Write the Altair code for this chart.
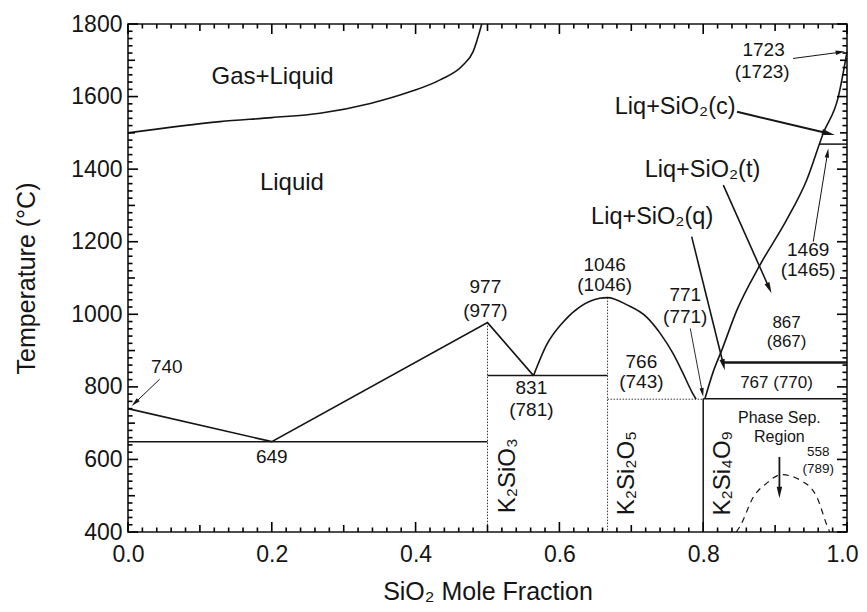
import math
import altair as alt
import pandas as pd

# ---------------- data ----------------
W, H = 719, 508
XMIN, XMAX = 0.0, 1.0
YMIN, YMAX = 400, 1800
PX_X = W / (XMAX - XMIN)
PX_Y = H / (YMAX - YMIN)

# phase boundaries (SiO2 mole fraction, temperature)
gas_x = [0.0, 0.128, 0.200, 0.267, 0.337, 0.392, 0.434, 0.466, 0.480, 0.492]
gas_y = [1500, 1531, 1542, 1554, 1581, 1613, 1646, 1687, 1724, 1800]

liqL_x = [0.0, 0.2, 0.5, 0.564]
liqL_y = [740, 649, 977, 831]

dome_x = [0.564, 0.582, 0.605, 0.629, 0.656, 0.667, 0.694, 0.721, 0.740, 0.758, 0.772, 0.784, 0.790]
dome_y = [831, 915, 978, 1021, 1044, 1046, 1026, 993, 948, 892, 837, 787, 766]

liqR_x = [0.8025, 0.814, 0.826, 0.847, 0.879, 0.916, 0.944, 0.967, 0.988, 1.0]
liqR_y = [768, 842, 902, 1012, 1136, 1260, 1370, 1499, 1600, 1723]

psep_x = [0.846, 0.851, 0.870, 0.888, 0.909, 0.935, 0.958, 0.972, 0.976]
psep_y = [400, 415, 497, 534, 558, 543, 497, 419, 400]

# straight segments: x1, y1, x2, y2
solid_segs = [(0.0, 649, 0.5, 649), (0.5, 831, 0.667, 831), (0.8, 767, 1.0, 767),
              (0.8, 767, 0.8, 400), (0.962, 1469, 1.0, 1469)]
thick_segs = [(0.826, 867, 1.0, 867)]
dotted_segs = [(0.5, 977, 0.5, 400), (0.667, 1046, 0.667, 400), (0.667, 766, 0.8, 766)]

# arrows: x_from, y_from, x_to, y_to, stroke width, head size
arrows = [
    (0.044, 821, 0.005, 747, 1.0, 110),
    (0.925, 1705, 0.997, 1724, 1.0, 110),
    (0.847, 1558, 0.983, 1494, 2.0, 220),
    (0.828, 1356, 0.895, 1058, 1.6, 160),
    (0.784, 1214, 0.830, 846, 1.6, 160),
    (0.782, 961, 0.800, 773, 0.9, 100),
    (0.953, 1200, 0.974, 1457, 1.0, 110),
    (0.906, 607, 0.906, 493, 1.8, 170),
]

labels = [
    ("Gas+Liquid", 0.201, 1655, 24),
    ("Liquid", 0.228, 1362, 24),
    ("740", 0.054, 856, 19),
    ("649", 0.200, 607, 19),
    ("977", 0.497, 1076, 19),
    ("(977)", 0.497, 1010, 19),
    ("831", 0.561, 796, 19),
    ("(781)", 0.561, 736, 19),
    ("1046", 0.663, 1136, 19),
    ("(1046)", 0.663, 1081, 19),
    ("771", 0.775, 1053, 19),
    ("(771)", 0.775, 993, 19),
    ("766", 0.714, 869, 19),
    ("(743)", 0.714, 814, 19),
    ("867", 0.916, 975, 17),
    ("(867)", 0.916, 924, 17),
    ("767 (770)", 0.902, 810, 17),
    ("Phase Sep.", 0.906, 713, 16),
    ("Region", 0.906, 663, 16),
    ("558", 0.960, 621, 13.5),
    ("(789)", 0.960, 575, 13.5),
    ("1723", 0.884, 1728, 19),
    ("(1723)", 0.882, 1669, 19),
    ("Liq+SiO₂(c)", 0.761, 1572, 23.5),
    ("Liq+SiO₂(t)", 0.799, 1398, 23.5),
    ("Liq+SiO₂(q)", 0.729, 1269, 23.5),
    ("1469", 0.946, 1177, 19),
    ("(1465)", 0.946, 1122, 19),
]

vlabels = [
    ("K₂SiO₃", 0.529, 555, 24),
    ("K₂Si₂O₅", 0.694, 562, 24),
    ("K₂Si₄O₉", 0.828, 562, 24),
]

x_ticks = [0.0, 0.2, 0.4, 0.6, 0.8, 1.0]
y_ticks = [400, 600, 800, 1000, 1200, 1400, 1600, 1800]

FONT = "Liberation Sans"
INK = "#151515"
HEAD = "M0,-1L-0.42,0.75L0.42,0.75Z"

# ---------------- frames ----------------
curve_rows = []
for name, xv, yv in [("gas", gas_x, gas_y), ("dome", dome_x, dome_y), ("liqR", liqR_x, liqR_y)]:
    for i, (a, b) in enumerate(zip(xv, yv)):
        curve_rows.append({"seg": name, "o": i, "x": a, "y": b})
curves = pd.DataFrame(curve_rows)
kinks = pd.DataFrame({"o": range(len(liqL_x)), "x": liqL_x, "y": liqL_y})
psep = pd.DataFrame({"o": range(len(psep_x)), "x": psep_x, "y": psep_y})

rule_rows = [{"x": a, "y": b, "x2": c, "y2": d, "w": 1.5} for a, b, c, d in solid_segs]
rule_rows += [{"x": a, "y": b, "x2": c, "y2": d, "w": 2.6} for a, b, c, d in thick_segs]
rules_df = pd.DataFrame(rule_rows)

# inward tick marks on all four sides
tick_rows = []
for i in range(0, 51):
    xv = round(i * 0.02, 4)
    L = 10 if i % 10 == 0 else (7 if i % 5 == 0 else 4.5)
    d = L / PX_Y
    tick_rows.append({"tx": xv, "ty": float(YMIN), "tx2": xv, "ty2": YMIN + d})
    tick_rows.append({"tx": xv, "ty": float(YMAX), "tx2": xv, "ty2": YMAX - d})
for i in range(0, 71):
    yv = float(YMIN + i * 20)
    L = 10 if i % 10 == 0 else (7 if i % 5 == 0 else 4.5)
    d = L / PX_X
    tick_rows.append({"tx": XMIN, "ty": yv, "tx2": XMIN + d, "ty2": yv})
    tick_rows.append({"tx": XMAX, "ty": yv, "tx2": XMAX - d, "ty2": yv})
ticks_df = pd.DataFrame(tick_rows)

dotted_df = pd.DataFrame([{"x": a, "y": b, "x2": c, "y2": d} for a, b, c, d in dotted_segs])

shaft_rows, head_rows = [], []
for x1, y1, x2, y2, w, s in arrows:
    dxp = (x2 - x1) * PX_X
    dyp = (y2 - y1) * PX_Y  # upward positive
    L = math.hypot(dxp, dyp)
    ux, uy = dxp / L, dyp / L
    half = math.sqrt(s) / 2  # px per path unit
    hx = x2 - ux * half / PX_X
    hy = y2 - uy * half / PX_Y
    ang = math.degrees(math.atan2(dxp, dyp)) % 360
    shaft_rows.append({"x": x1, "y": y1, "x2": hx, "y2": hy, "w": w})
    head_rows.append({"x": hx, "y": hy, "ang": ang, "s": s})
shafts = pd.DataFrame(shaft_rows)
heads = pd.DataFrame(head_rows)

lab_df = pd.DataFrame(labels, columns=["t", "x", "y", "fs"])
vlab_df = pd.DataFrame(vlabels, columns=["t", "x", "y", "fs"])

# ---------------- scales ----------------
xs = alt.Scale(domain=[XMIN, XMAX], nice=False, zero=False)
ys = alt.Scale(domain=[YMIN, YMAX], nice=False, zero=False)
XQ = alt.X("x:Q", scale=xs)
YQ = alt.Y("y:Q", scale=ys)

X = alt.X("x:Q", scale=xs, axis=alt.Axis(
    title="SiO₂ Mole Fraction", values=x_ticks, format=".1f",
    labelFlush=False, labelPadding=11, titlePadding=13,
    labelOffset={"condition": {"test": "datum.value >= 1", "value": -5}, "value": 0}))
Y = alt.Y("y:Q", scale=ys, axis=alt.Axis(
    title="Temperature (°C)", values=y_ticks, format="d",
    labelPadding=6, titlePadding=31))

curve_layer = alt.Chart(curves).mark_line(color=INK, strokeWidth=1.6, interpolate="monotone").encode(
    x=X, y=Y, detail="seg:N", order="o:Q")

kink_layer = alt.Chart(kinks).mark_line(color=INK, strokeWidth=1.6).encode(
    x=XQ, y=YQ, order="o:Q")

psep_layer = alt.Chart(psep).mark_line(color=INK, strokeWidth=1.2, strokeDash=[6, 5],
                                       interpolate="monotone").encode(x=XQ, y=YQ, order="o:Q")

rule_layer = alt.Chart(rules_df).mark_rule(color=INK).encode(
    x=XQ, y=YQ, x2="x2:Q", y2="y2:Q", strokeWidth=alt.StrokeWidth("w:Q", scale=None))

tick_layer = alt.Chart(ticks_df).mark_rule(stroke="#000000", strokeWidth=1.6).encode(
    x=alt.X("tx:Q", scale=xs), y=alt.Y("ty:Q", scale=ys), x2="tx2:Q", y2="ty2:Q")

dotted_layer = alt.Chart(dotted_df).mark_rule(color=INK, strokeWidth=1.0, strokeDash=[1.5, 1.5],
                                              opacity=0.85).encode(
    x=XQ, y=YQ, x2="x2:Q", y2="y2:Q")

shaft_layer = alt.Chart(shafts).mark_rule(color=INK).encode(
    x=XQ, y=YQ, x2="x2:Q", y2="y2:Q",
    strokeWidth=alt.StrokeWidth("w:Q", scale=None))

head_layer = alt.Chart(heads).mark_point(shape=HEAD, filled=True, color=INK, opacity=1,
                                         strokeWidth=0).encode(
    x=XQ, y=YQ, angle=alt.Angle("ang:Q", scale=None), size=alt.Size("s:Q", scale=None))

text_layer = alt.Chart(lab_df).mark_text(font=FONT, color=INK, align="center", baseline="middle").encode(
    x=XQ, y=YQ, text="t:N", size=alt.Size("fs:Q", scale=None))

vtext_layer = alt.Chart(vlab_df).mark_text(font=FONT, color=INK, align="center", baseline="middle",
                                           angle=270).encode(
    x=XQ, y=YQ, text="t:N", size=alt.Size("fs:Q", scale=None))

chart = alt.layer(
    curve_layer, kink_layer, psep_layer, rule_layer, dotted_layer,
    shaft_layer, head_layer, text_layer, vtext_layer, tick_layer
).properties(
    width=W, height=H,
    autosize=alt.AutoSizeParams(type="none"),
    padding={"left": 120, "top": 16, "right": 12, "bottom": 72},
    background="white",
).configure_view(
    stroke=INK, strokeWidth=1.6
).configure_axis(
    grid=False, ticks=False, domain=False,
    labelFont=FONT, labelFontSize=23, labelColor=INK,
    titleFont=FONT, titleFontSize=25, titleFontWeight="normal", titleColor=INK,
)

chart.save("out.html", embed_options={"renderer": "svg", "actions": False})
